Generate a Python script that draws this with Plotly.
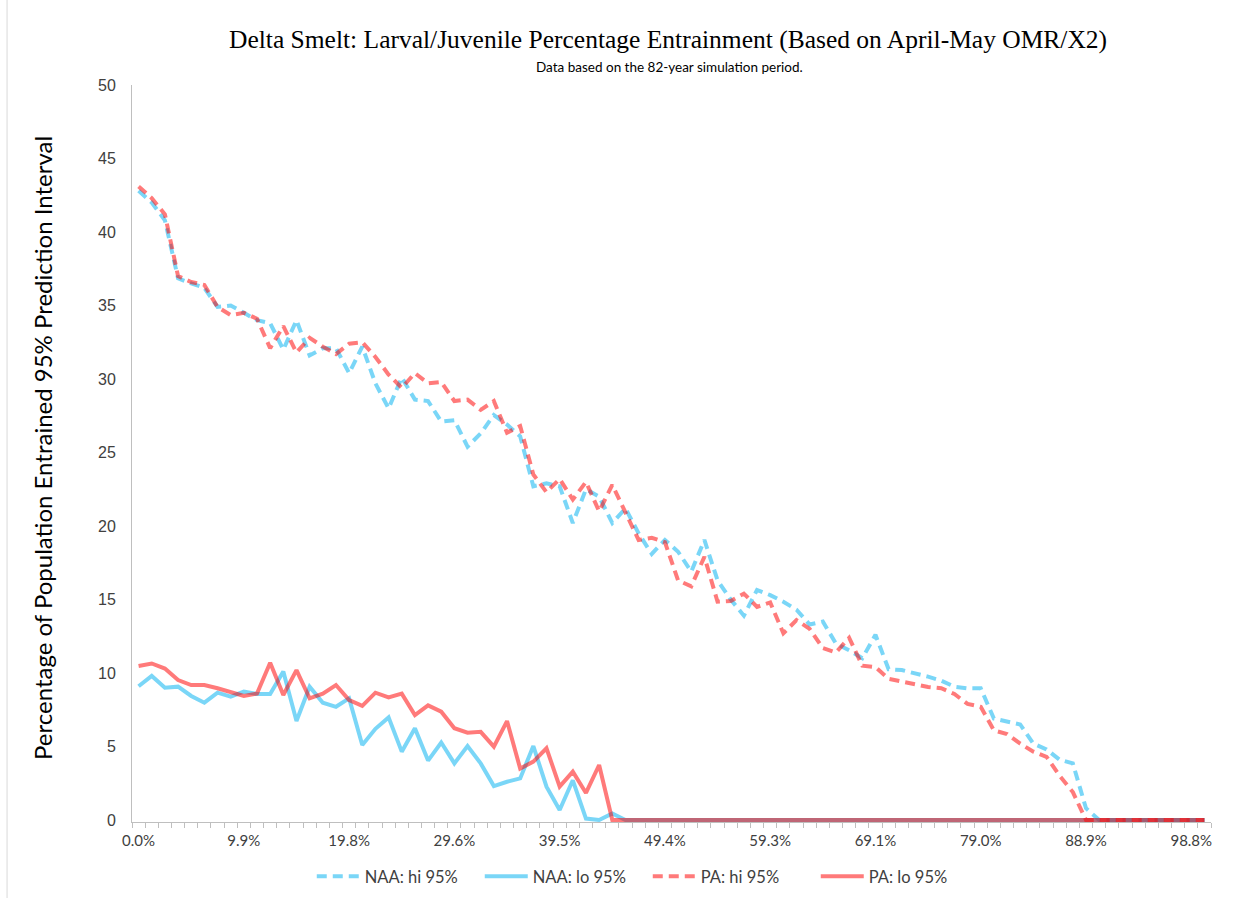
import plotly.graph_objects as go

# Exceedance positions: 82 simulated years ranked, labelled as i/81
exceedance = [f"{i / 81:.1%}" for i in range(82)]
label_every = 8

# Upper and lower 95% prediction limits (% of population entrained)
naa_hi = [42.8, 42.0, 40.8, 36.85, 36.5, 36.2, 34.9, 35.0, 34.5, 34.0,
          33.8, 32.0, 34.0, 31.6, 32.1, 32.1, 30.4, 32.2, 29.7, 28.0,
          30.1, 28.6, 28.5, 27.1, 27.2, 25.4, 26.3, 27.55, 26.9, 26.1,
          22.7, 22.9, 22.7, 20.2, 22.5, 22.0, 20.2, 21.2, 19.5, 18.1,
          19.05, 18.25, 16.9, 19.05, 16.3, 15.0, 13.9, 15.65, 15.3, 14.85,
          14.3, 13.3, 13.5, 12.0, 11.55, 11.0, 12.6, 10.25, 10.2, 10.0,
          9.75, 9.48, 9.07, 8.96, 8.96, 6.9, 6.7, 6.5, 5.2, 4.8,
          4.1, 3.85, 0.8, 0, 0, 0, 0, 0, 0, 0,
          0, 0]
naa_lo = [9.1, 9.8, 9.0, 9.07, 8.44, 7.98, 8.66, 8.39, 8.73, 8.57,
          8.57, 10.1, 6.73, 9.07, 7.98, 7.7, 8.27, 5.1, 6.2, 6.98,
          4.65, 6.24, 4.04, 5.27, 3.85, 5.03, 3.85, 2.31, 2.6, 2.83,
          5.03, 2.27, 0.68, 2.7, 0.1, 0.0, 0.45, 0, 0, 0,
          0, 0, 0, 0, 0, 0, 0, 0, 0, 0,
          0, 0, 0, 0, 0, 0, 0, 0, 0, 0,
          0, 0, 0, 0, 0, 0, 0, 0, 0, 0,
          0, 0, 0, 0, 0, 0, 0, 0, 0, 0,
          0, 0]
pa_hi = [43.1, 42.3, 41.2, 37.0, 36.6, 36.4, 34.9, 34.35, 34.5, 34.1,
         32.1, 33.6, 31.8, 32.8, 32.2, 31.7, 32.4, 32.5, 31.5, 30.3,
         29.4, 30.4, 29.7, 29.8, 28.5, 28.6, 27.9, 28.5, 26.35, 26.8,
         23.5, 22.3, 23.2, 21.8, 23.0, 21.0, 22.8, 21.0, 19.05, 19.2,
         18.9, 16.3, 15.9, 17.9, 14.85, 14.9, 15.4, 14.5, 14.8, 12.7,
         13.6, 13.0, 11.7, 11.4, 12.4, 10.5, 10.4, 9.6, 9.4, 9.2,
         9.05, 8.96, 8.57, 7.9, 7.7, 6.1, 5.85, 5.2, 4.65, 4.3,
         3.0, 1.9, 0, 0, 0, 0, 0, 0, 0, 0,
         0, 0]
pa_lo = [10.48, 10.65, 10.3, 9.52, 9.18, 9.18, 8.96, 8.7, 8.44, 8.6,
         10.7, 8.5, 10.2, 8.28, 8.6, 9.18, 8.16, 7.76, 8.66, 8.34,
         8.6, 7.14, 7.8, 7.37, 6.24, 5.94, 6.0, 4.99, 6.73, 3.5,
         3.97, 4.88, 2.27, 3.29, 1.84, 3.74, 0, 0, 0, 0,
         0, 0, 0, 0, 0, 0, 0, 0, 0, 0,
         0, 0, 0, 0, 0, 0, 0, 0, 0, 0,
         0, 0, 0, 0, 0, 0, 0, 0, 0, 0,
         0, 0, 0, 0, 0, 0, 0, 0, 0, 0,
         0, 0]

BLUE = "rgba(0,176,240,0.52)"
RED = "rgba(255,0,0,0.52)"
AXIS_GREY = "#BFBFBF"

x_idx = list(range(len(exceedance)))

series = [
    ("NAA: hi 95%", naa_hi, BLUE, "10px,6px"),
    ("NAA: lo 95%", naa_lo, BLUE, "solid"),
    ("PA: hi 95%", pa_hi, RED, "10px,6px"),
    ("PA: lo 95%", pa_lo, RED, "solid"),
]

fig = go.Figure()
for name, vals, color, dash in series:
    fig.add_trace(go.Scatter(
        x=x_idx, y=vals, name=name, mode="lines",
        line=dict(color=color, width=4, dash=dash),
        hoverinfo="skip",
    ))

tick_pos = x_idx[::label_every]
tick_txt = exceedance[::label_every]

fig.update_layout(
    width=1243, height=898,
    margin=dict(l=132, r=32, t=85, b=76, autoexpand=False),
    paper_bgcolor="white", plot_bgcolor="white",
    showlegend=True,
    legend=dict(
        orientation="h", x=0.478, xanchor="center", y=-0.074, yanchor="middle",
        font=dict(family="Lato", size=16.5, color="#404040"),
        bgcolor="rgba(0,0,0,0)", itemwidth=43, entrywidth=110,
    ),
    xaxis=dict(
        range=[-0.5, len(exceedance) - 0.5],
        tickmode="array", tickvals=tick_pos, ticktext=tick_txt,
        ticks="", showgrid=False, zeroline=False,
        showline=True, linecolor=AXIS_GREY, linewidth=1,
        layer="below traces",
        tickfont=dict(family="Lato", size=15, color="#404040"),
        ticklabelstandoff=5,
        minor=dict(
            tickmode="array",
            tickvals=[k - 0.5 for k in range(len(exceedance) + 1)],
            ticks="outside", ticklen=5, tickcolor=AXIS_GREY, tickwidth=1,
            showgrid=False,
        ),
    ),
    yaxis=dict(
        range=[-0.136, 50], tickmode="linear", tick0=0, dtick=5,
        ticks="", showgrid=False, zeroline=False,
        showline=True, linecolor=AXIS_GREY, linewidth=1,
        layer="below traces",
        tickfont=dict(family="Liberation Sans, Arial", size=16, color="#404040"),
        ticklabelstandoff=12,
    ),
    shapes=[dict(type="line", xref="paper", yref="paper",
                 x0=-0.1158, x1=-0.1158, y0=-0.12, y1=1.13,
                 line=dict(color="#D9D9D9", width=1))],
    annotations=[
        dict(text="Delta Smelt: Larval/Juvenile Percentage Entrainment (Based on April-May OMR/X2)",
             xref="paper", yref="paper", x=0.4968, y=1.0612,
             xanchor="center", yanchor="middle", showarrow=False,
             font=dict(family="Liberation Serif, Times New Roman", size=25.5, color="black")),
        dict(text="Data based on the 82-year simulation period.",
             xref="paper", yref="paper", x=0.4986, y=1.0245,
             xanchor="center", yanchor="middle", showarrow=False,
             font=dict(family="Lato", size=13.5, color="black")),
        dict(text="Percentage of Population Entrained 95% Prediction Interval",
             xref="paper", yref="paper", x=-0.0825, y=0.5075, textangle=-90,
             xanchor="center", yanchor="middle", showarrow=False,
             font=dict(family="Lato", size=24, color="black")),
    ],
)

fig.write_html("out.html")
